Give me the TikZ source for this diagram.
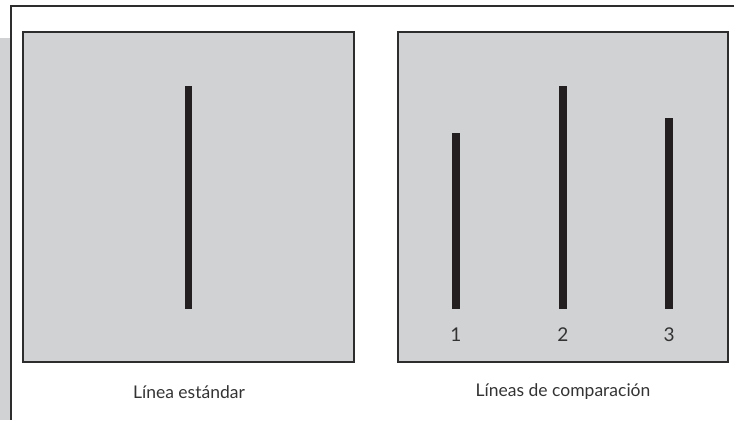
\documentclass[tikz,border=0pt]{standalone}
\usepackage{fontspec}
\setmainfont{Lato}
\usetikzlibrary{positioning}
\definecolor{panelgray}{RGB}{209,210,212}
\definecolor{barblack}{RGB}{35,31,32}
\definecolor{framegray}{RGB}{45,45,45}

\begin{document}
\begin{tikzpicture}[x=1pt,y=-1pt,
			panelbox/.style={
				draw=framegray,
				line width=1.3pt,
				fill=panelgray
			},
			barline/.style={
				fill=barblack
			},
			numlabel/.style={
				text=black!80,
				font=\fontsize{19}{22}\selectfont
			},
			captionlabel/.style={
				text=black!80,
				font=\fontsize{17.5}{20}\selectfont
			}
			]
			\useasboundingbox (0,0) rectangle (735,420);
			
			% page frame and side stripe
			\fill[panelgray] (0,38) rectangle (11,420);
			\draw[framegray,line width=1.3pt] (734,6) -- (11,6) -- (11,420);
			
			% panels
			\draw[panelbox] (23,32) rectangle (354,362);
			\draw[panelbox] (398,32) rectangle (728,362);
			
			% standard line
			\fill[barline] (185,86) rectangle (192,309);
			
			% comparison lines
			\fill[barline] (452,133) rectangle (460,309);
			\fill[barline] (559,86) rectangle (567,309);
			\fill[barline] (665,118) rectangle (673,309);
			
			\node[numlabel] (one) at (456,335) {1};
			\node[numlabel] (two) at (563,335) {2};
			\node[numlabel] (three) at (669,335) {3};
			
			\node[captionlabel] (standard) at (189,392) {Línea estándar};
			\node[captionlabel] (comparison) at (563,392) {Líneas de comparación};
			
		\end{tikzpicture}
\end{document}
